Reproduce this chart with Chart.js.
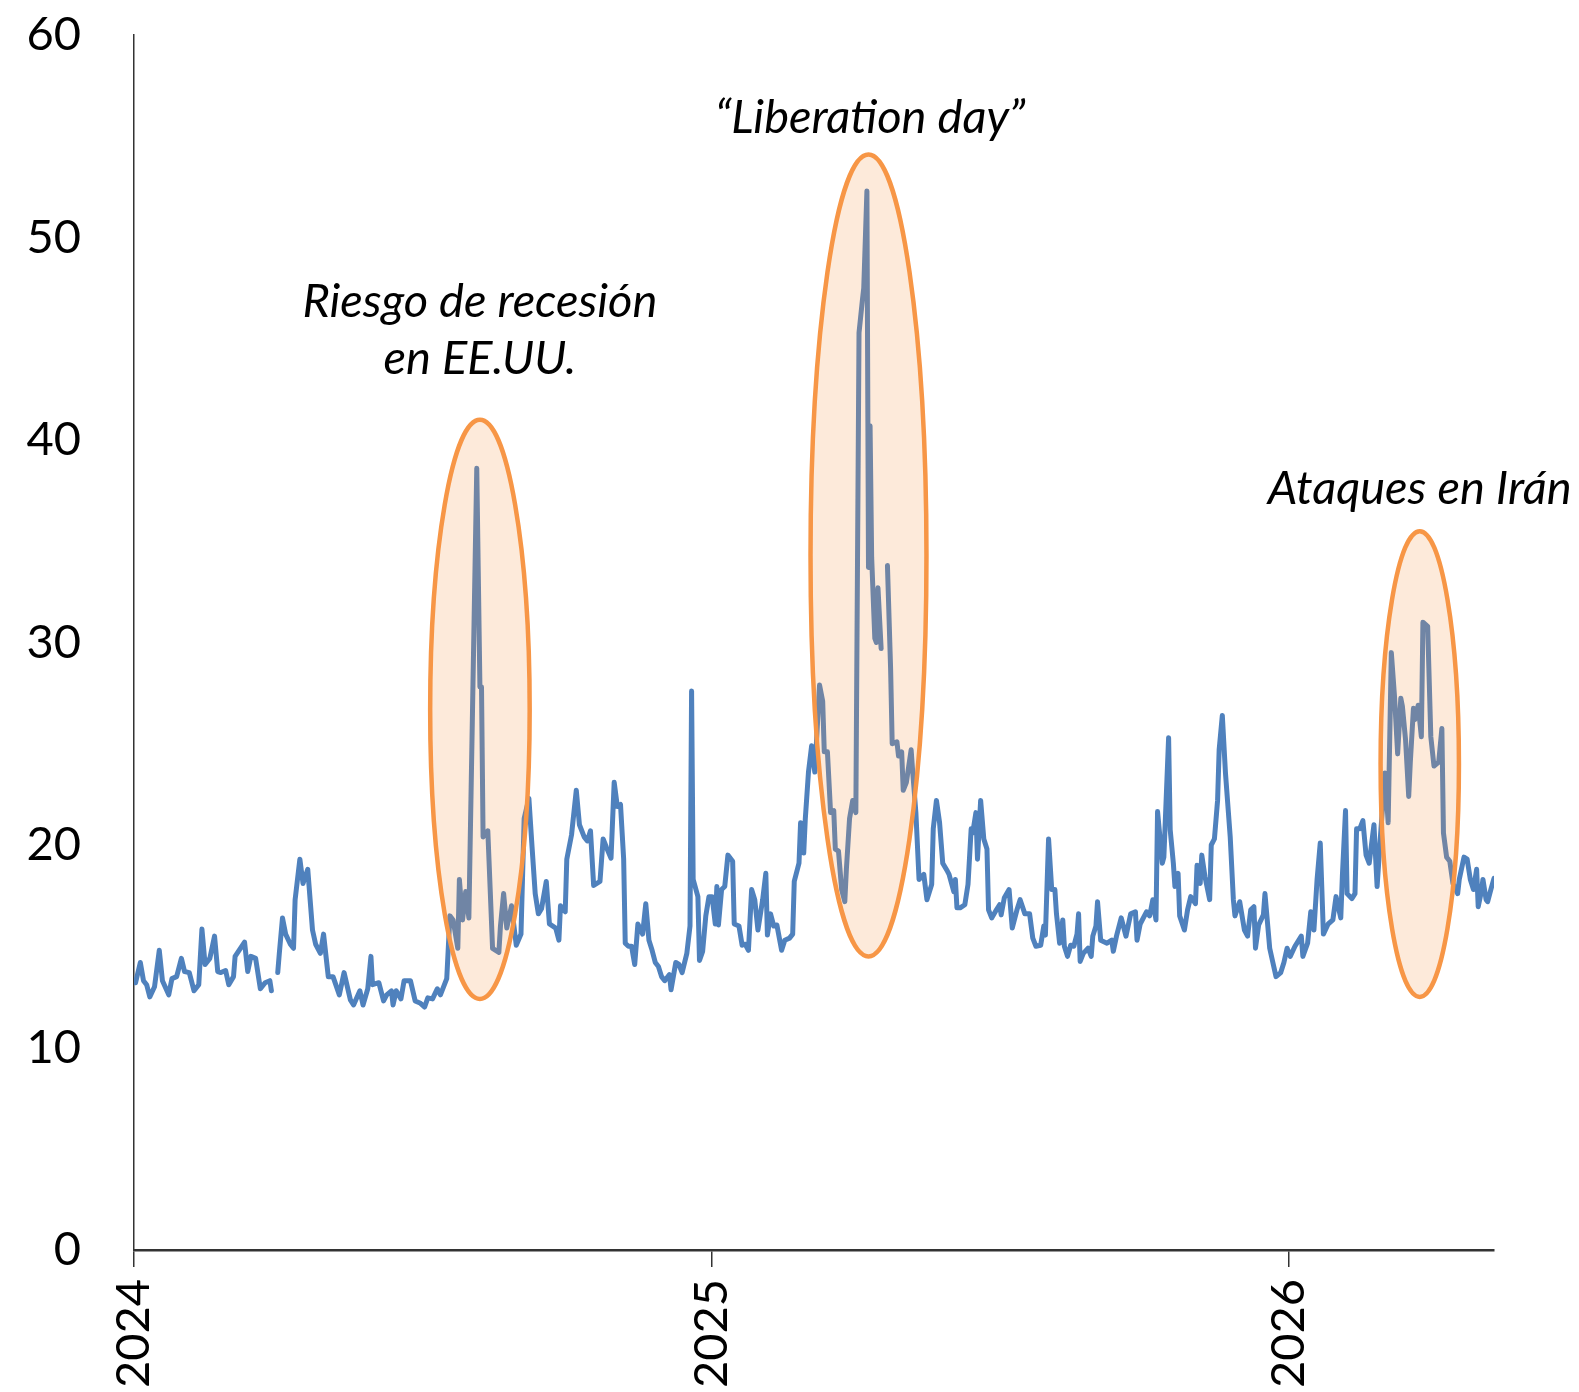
<!DOCTYPE html>
<html>
<head>
<meta charset="utf-8">
<script src="https://cdn.jsdelivr.net/npm/chart.js@4.4.1/dist/chart.umd.min.js"></script>
<style>
  html, body { margin: 0; padding: 0; background: #fff; }
  #wrap { width: 1579px; height: 1392px; }
</style>
</head>
<body>
<div id="wrap"><canvas id="chart" width="1579" height="1392"></canvas></div>
<script>
// ---------------------
// DATOS (dias desde 1-ene-2024, nivel del indice)
// ---------------------
const days = [
    1, 4, 6, 8, 10, 13, 16, 18, 22, 24,
    27, 30, 32, 35, 38, 41, 43, 45, 48, 51,
    53, 55, 58, 60, 63, 64, 70, 72, 74, 77,
    80, 83, 86, 87, 89, 91, 92, 94, 96, 99,
    101, 102, 105, 107, 110, 113, 115, 118, 120, 123,
    126, 130, 133, 137, 139, 143, 145, 148, 150, 151,
    155, 158, 160, 163, 164, 166, 169, 171, 175, 178,
    181, 184, 186, 189, 192, 194, 198, 200, 202, 205,
    206, 208, 210, 212, 217, 219, 220, 221, 224, 227,
    231, 232, 234, 236, 239, 242, 245, 247, 250, 252,
    254, 256, 258, 261, 263, 267, 269, 270, 273, 274,
    277, 280, 282, 285, 287, 289, 291, 295, 297, 299,
    302, 304, 306, 308, 310, 311, 313, 315, 317, 319,
    322, 324, 326, 328, 330, 332, 334, 336, 339, 340,
    343, 345, 347, 350, 352, 353, 354, 357, 358, 360,
    362, 364, 366, 368, 369, 370, 372, 374, 376, 379,
    380, 383, 385, 387, 389, 391, 393, 395, 398, 400,
    401, 403, 405, 407, 410, 412, 415, 417, 418, 421,
    422, 424, 425, 427, 429, 431, 432, 434, 436, 437,
    439, 441, 443, 444, 446, 448, 450, 451, 453, 455,
    457, 459, 461, 462, 464, 465, 466, 467, 469, 470,
    471, 473, 475, 477, 479, 480, 483, 484, 486, 487,
    489, 492, 493, 495, 497, 500, 502, 505, 506, 508,
    510, 512, 515, 516, 519, 520, 521, 523, 526, 528,
    530, 531, 533, 534, 536, 538, 540, 541, 543, 546,
    548, 549, 551, 554, 556, 559, 561, 564, 567, 569,
    571, 574, 576, 577, 579, 581, 583, 584, 586, 588,
    589, 591, 593, 595, 597, 598, 599, 601, 604, 606,
    607, 609, 610, 612, 616, 619, 620, 622, 625, 628,
    631, 634, 635, 637, 641, 643, 645, 647, 648, 651,
    652, 655, 656, 658, 659, 661, 662, 665, 667, 669,
    672, 673, 675, 676, 678, 681, 682, 684, 686, 687,
    689, 691, 694, 696, 697, 700, 703, 705, 707, 709,
    710, 712, 715, 716, 719, 721, 723, 726, 728, 730,
    732, 735, 739, 740, 743, 745, 747, 749, 751, 753,
    756, 759, 761, 764, 765, 767, 768, 771, 773, 774,
    776, 778, 780, 782, 785, 787, 789, 792, 794, 796,
    798, 800, 802, 803, 805, 807, 808, 810, 811, 813,
    815, 816, 819, 821, 823, 826, 828, 829, 831, 833,
    835, 838, 839, 842, 844, 846, 848, 850, 851, 853,
    854, 856, 857, 859, 861
];

const vix = [
    13.2, 14.2, 13.3, 13.1, 12.5, 13.0, 14.8, 13.3, 12.6, 13.4,
    13.5, 14.4, 13.75, 13.7, 12.8, 13.1, 15.85, 14.1, 14.4, 15.5,
    13.75, 13.7, 13.8, 13.1, 13.5, 14.5, 15.2, 13.75, 14.5, 14.4,
    12.9, 13.2, 13.3, 12.8, null, 13.7, 14.65, 16.4, 15.6, 15.1,
    14.9, 17.3, 19.3, 18.1, 18.8, 15.8, 15.1, 14.65, 15.6, 13.5,
    13.5, 12.6, 13.7, 12.35, 12.1, 12.8, 12.1, 12.9, 14.5, 13.1,
    13.2, 12.3, 12.6, 12.8, 12.1, 12.8, 12.4, 13.3, 13.3, 12.3,
    12.2, 12.0, 12.45, 12.4, 12.9, 12.6, 13.4, 16.5, 16.3, 14.9,
    18.3, 16.3, 17.7, 16.4, 38.6, 27.8, 27.8, 20.4, 20.7, 14.9,
    14.7, 16.0, 17.6, 15.9, 17.0, 15.05, 15.6, 21.3, 22.3, 19.9,
    17.6, 16.6, 16.85, 18.2, 16.1, 15.9, 15.3, 17.0, 16.7, 19.3,
    20.5, 22.7, 21.0, 20.4, 20.2, 20.7, 18.0, 18.2, 20.3, 19.9,
    19.35, 23.1, 21.9, 22.0, 19.3, 15.15, 15.0, 15.0, 14.1, 16.1,
    15.6, 17.1, 15.3, 14.8, 14.2, 14.0, 13.5, 13.3, 13.6, 12.85,
    14.2, 14.1, 13.7, 14.65, 16.0, 27.6, 18.3, 17.45, 14.3, 14.75,
    16.5, 17.45, 17.45, 16.1, 17.95, 16.05, 17.8, 17.95, 19.5, 19.2,
    16.1, 16.0, 15.05, 15.1, 14.8, 17.8, 17.3, 15.8, 17.3, 18.6,
    15.55, 16.6, 16.0, 16.05, 14.8, 15.3, 15.4, 15.6, 18.2, 19.1,
    21.1, 19.6, 21.3, 23.6, 24.9, 23.6, 25.0, 27.9, 27.1, 24.6,
    24.6, 21.6, 21.7, 19.8, 19.7, 17.8, 17.2, 18.8, 21.3, 22.2,
    21.6, 45.3, 46.8, 47.5, 52.3, 33.7, 40.7, 34.2, 30.2, 30.0,
    32.7, 29.7, null, 33.8, 28.7, 25.0, 25.1, 24.4, 24.6, 22.7,
    23.1, 24.7, 23.6, 21.6, 18.3, 18.55, 17.3, 18.05, 20.8, 22.2,
    21.1, 19.1, 18.7, 18.55, 17.7, 18.3, 16.9, 16.9, 17.05, 18.05,
    20.8, 20.6, 21.6, 19.3, 22.2, 20.3, 19.8, 16.8, 16.4, 16.8,
    17.05, 16.55, 17.4, 17.8, 15.9, 16.8, 17.3, 16.6, 16.6, 15.4,
    15.0, 15.05, 16.0, 15.55, 20.3, 17.8, 17.8, 16.6, 15.15, 16.3,
    15.0, 14.5, 15.05, 15.0, 15.6, 16.6, 14.25, 14.65, 14.9, 14.5,
    15.5, 16.0, 17.2, 15.3, 15.15, 15.3, 14.75, 15.5, 16.4, 15.5,
    16.6, 16.7, 15.3, 16.1, 16.7, 16.5, 17.3, 16.3, 21.65, 19.1,
    19.4, 25.3, 20.75, 19.1, 17.95, 18.6, 16.5, 15.8, 16.8, 17.45,
    17.1, 19.0, 18.1, 19.5, 18.45, 17.3, 20.0, 20.3, 22.2, 24.7,
    26.4, 23.55, 20.4, 17.3, 16.5, 17.2, 15.8, 15.5, 16.8, 16.95,
    14.9, 16.05, 16.55, 17.6, 14.9, 14.2, 13.5, 13.7, 14.2, 14.9,
    14.5, 15.0, 15.5, 14.5, 15.15, 16.7, 15.8, 18.3, 20.1, 15.6,
    16.1, 16.3, 17.45, 16.4, 18.45, 21.7, 17.6, 17.35, 17.6, 20.8,
    20.8, 21.2, 19.5, 19.1, 21.0, 17.95, 20.3, 23.55, 21.1, 29.5,
    27.35, 24.5, 27.25, 26.85, 25.2, 22.4, 24.05, 26.75, 26.2, 26.9,
    25.35, 31.0, 30.8, 25.35, 23.9, 24.1, 25.75, 20.6, 19.4, 19.2,
    18.1, 17.6, 18.3, 19.4, 19.3, 18.3, 17.8, 18.8, 16.95, 17.7,
    18.3, 17.3, 17.2, 17.8, 18.35
];

// ticks del eje X (1-ene de cada año) y eje Y
const yearDays = [0, 366, 731];
const yearLabels = ["2024", "2025", "2026"];
const lastDay = 861;
const yTicks = [0, 10, 20, 30, 40, 50, 60];

// ---------------------
// ANOTACIONES (elipses + textos)
// ---------------------
const episodes = [
    { day: 219, mid: 26.7, rx: 31.5, ry: 14.3, text: ["Riesgo de recesión", "en EE.UU."], tx: 219, ty: [46.8, 44.0] },
    { day: 465, mid: 34.3, rx: 36.7, ry: 19.8, text: ["\u201CLiberation day\u201D"], tx: 466, ty: [55.9] },
    { day: 814, mid: 24.0, rx: 24.8, ry: 11.5, text: ["Ataques en Irán"], tx: 814, ty: [37.6] }
];

const FONT = "Lato, 'Open Sans', sans-serif";

const episodesPlugin = {
    id: "episodes",
    afterDatasetsDraw(chart) {
        const ctx = chart.ctx;
        const x = chart.scales.x, y = chart.scales.y;
        episodes.forEach(e => {
            const cx = x.getPixelForValue(e.day);
            const cy = y.getPixelForValue(e.mid);
            const rx = x.getPixelForValue(e.day + e.rx) - cx;
            const ry = cy - y.getPixelForValue(e.mid + e.ry);
            ctx.save();
            ctx.beginPath();
            ctx.ellipse(cx, cy, rx, ry, 0, 0, Math.PI * 2);
            ctx.fillStyle = "rgba(247,150,70,0.2)";
            ctx.fill();
            ctx.lineWidth = 4.5;
            ctx.strokeStyle = "#F79646";
            ctx.stroke();
            ctx.restore();

            ctx.save();
            ctx.font = "italic 47px " + FONT;
            ctx.fillStyle = "#000";
            ctx.textAlign = "center";
            ctx.textBaseline = "middle";
            e.text.forEach((t, i) => {
                ctx.fillText(t, x.getPixelForValue(e.tx), y.getPixelForValue(e.ty[i]));
            });
            ctx.restore();
        });
    }
};

// ---------------------
// GRAFICO
// ---------------------
const points = days.map((d, i) => ({ x: d, y: vix[i] }));

new Chart(document.getElementById("chart"), {
    type: "line",
    data: {
        datasets: [{
            data: points,
            borderColor: "#4F81BD",
            borderWidth: 5,
            pointRadius: 0,
            tension: 0,
            spanGaps: false,
            borderJoinStyle: "round",
            borderCapStyle: "round"
        }]
    },
    options: {
        responsive: false,
        animation: false,
        devicePixelRatio: 1,
        layout: { padding: { top: 35, right: 85, left: 0, bottom: 0 } },
        plugins: {
            legend: { display: false },
            tooltip: { enabled: false }
        },
        scales: {
            x: {
                type: "linear",
                min: 0,
                max: lastDay,
                afterBuildTicks: s => { s.ticks = yearDays.map(v => ({ value: v })); },
                afterFit: s => { s.height = 142; s.paddingLeft = 0; s.paddingRight = 0; },
                ticks: {
                    autoSkip: false,
                    minRotation: 90,
                    maxRotation: 90,
                    padding: 12,
                    color: "#000",
                    font: { family: FONT, size: 47 },
                    callback: v => yearLabels[yearDays.indexOf(v)]
                },
                grid: {
                    drawOnChartArea: false,
                    drawTicks: true,
                    tickLength: 17,
                    color: "#333",
                    lineWidth: 1.5
                },
                border: { display: true, color: "#333", width: 2.5 }
            },
            y: {
                min: 0,
                max: 60,
                afterBuildTicks: s => { s.ticks = yTicks.map(v => ({ value: v })); },
                afterFit: s => { s.width = 134; s.paddingTop = 0; s.paddingBottom = 0; },
                ticks: {
                    padding: 45,
                    color: "#000",
                    font: { family: FONT, size: 47 }
                },
                grid: { display: false },
                border: { display: true, color: "#333", width: 1.5 }
            }
        }
    },
    plugins: [episodesPlugin]
});
</script>
</body>
</html>
